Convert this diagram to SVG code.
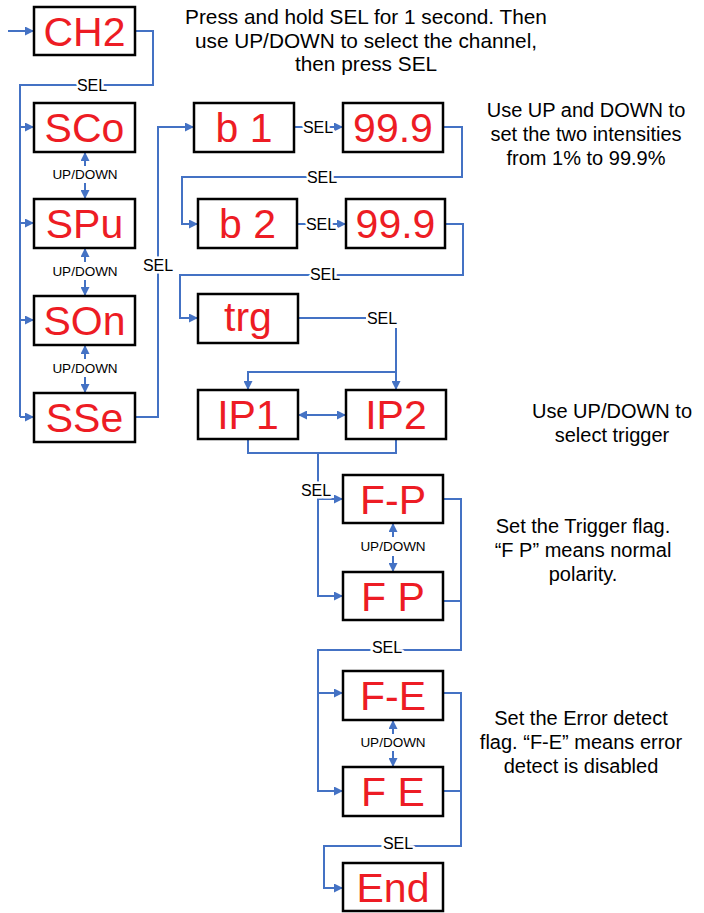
<svg xmlns="http://www.w3.org/2000/svg" width="704" height="913" viewBox="0 0 704 913">
<defs>
<marker id="ah" viewBox="0 0 10 10" refX="10" refY="5" markerWidth="10" markerHeight="9" markerUnits="userSpaceOnUse" orient="auto-start-reverse">
<path d="M0,0 L10,5 L0,10 z" fill="#4472C4"/>
</marker>
<style>
.box{fill:#fff;stroke:#000;stroke-width:2.5}
.lbl{font-family:"Liberation Sans",Arial,sans-serif;font-size:41px;fill:#ED1C24;text-anchor:middle}
.c{fill:none;stroke:#4472C4;stroke-width:2}
.a{fill:none;stroke:#4472C4;stroke-width:2;marker-end:url(#ah)}
.d{fill:none;stroke:#4472C4;stroke-width:2;marker-end:url(#ah);marker-start:url(#ah)}
.sel{font-family:"Liberation Sans",Arial,sans-serif;font-size:16px;fill:#000;text-anchor:middle;stroke:#fff;stroke-width:5;paint-order:stroke;stroke-linejoin:round}
.ud{font-family:"Liberation Sans",Arial,sans-serif;font-size:13.5px;fill:#000;text-anchor:middle}
.note{font-family:"Liberation Sans",Arial,sans-serif;font-size:20px;fill:#000;text-anchor:middle}
.top{font-size:20.8px}
</style>
</defs>
<rect width="704" height="913" fill="#fff"/>
<g id="connectors">
<path class="a" d="M8,31 H34"/>
<path class="c" d="M135,31 H153 V85 H20 V417"/>
<path class="a" d="M20,127 H34"/>
<path class="a" d="M20,223 H34"/>
<path class="a" d="M20,320 H34"/>
<path class="a" d="M20,417 H34"/>
<path class="a" d="M85,166 V152"/><path class="a" d="M85,183 V199"/>
<path class="a" d="M85,262 V248"/><path class="a" d="M85,280 V296"/>
<path class="a" d="M85,359 V345"/><path class="a" d="M85,377 V393"/>
<path class="a" d="M135,417 H158 V127 H194"/>
<path class="a" d="M294,127 H343"/>
<path class="a" d="M443,127 H462 V177 H182 V224 H198"/>
<path class="a" d="M297,224 H346"/>
<path class="a" d="M445,224 H463 V275 H180 V318 H198"/>
<path class="c" d="M298,318 H366"/>
<path class="a" d="M396,328 V390"/>
<path class="a" d="M396,372 H248 V390"/>
<path class="d" d="M298,415 H346"/>
<path class="c" d="M248,439 V453 H396 V439"/>
<path class="a" d="M318,453 V596 H343"/>
<path class="a" d="M318,499 H343"/>
<path class="a" d="M393,537 V523"/><path class="a" d="M393,556 V572"/>
<path class="a" d="M443,499 H461 V650 H318 V791 H343"/>
<path class="c" d="M443,601 H461"/>
<path class="a" d="M318,693 H343"/>
<path class="a" d="M393,734 V720"/><path class="a" d="M393,751 V767"/>
<path class="a" d="M443,693 H461 V846 H324 V888 H343"/>
<path class="c" d="M443,791 H461"/>
<text class="sel" x="92" y="91">SEL</text>
<text class="sel" x="158" y="271">SEL</text>
<text class="sel" x="318" y="133">SEL</text>
<text class="sel" x="322" y="183">SEL</text>
<text class="sel" x="321" y="230">SEL</text>
<text class="sel" x="325" y="280">SEL</text>
<text class="sel" x="382" y="324">SEL</text>
<text class="sel" x="316" y="496">SEL</text>
<text class="sel" x="387" y="653">SEL</text>
<text class="sel" x="398" y="849">SEL</text>
<text class="ud" x="85" y="179">UP/DOWN</text>
<text class="ud" x="85" y="276">UP/DOWN</text>
<text class="ud" x="85" y="373">UP/DOWN</text>
<text class="ud" x="393" y="551">UP/DOWN</text>
<text class="ud" x="393" y="747">UP/DOWN</text>
</g>
<g id="CH2"><rect class="box" x="34" y="7" width="101" height="48"/><text class="lbl" x="84.5" y="45.5">CH2</text></g>
<g id="SCo"><rect class="box" x="34" y="103" width="101" height="49"/><text class="lbl" x="84.5" y="142">SCo</text></g>
<g id="SPu"><rect class="box" x="34" y="199" width="101" height="49"/><text class="lbl" x="84.5" y="238">SPu</text></g>
<g id="SOn"><rect class="box" x="34" y="296" width="101" height="49"/><text class="lbl" x="84.5" y="335">SOn</text></g>
<g id="SSe"><rect class="box" x="34" y="393" width="101" height="49"/><text class="lbl" x="84.5" y="432">SSe</text></g>
<g id="b1"><rect class="box" x="194" y="103" width="100" height="49"/><text class="lbl" x="244" y="142">b 1</text></g>
<g id="v1"><rect class="box" x="343" y="103" width="100" height="49"/><text class="lbl" x="393" y="142">99.9</text></g>
<g id="b2"><rect class="box" x="198" y="199" width="99" height="49"/><text class="lbl" x="247.5" y="238">b 2</text></g>
<g id="v2"><rect class="box" x="346" y="199" width="99" height="49"/><text class="lbl" x="395.5" y="238">99.9</text></g>
<g id="trg"><rect class="box" x="198" y="294" width="100" height="49"/><text class="lbl" x="248" y="331">trg</text></g>
<g id="IP1"><rect class="box" x="198" y="390" width="100" height="49"/><text class="lbl" x="248" y="429">IP1</text></g>
<g id="IP2"><rect class="box" x="346" y="390" width="100" height="49"/><text class="lbl" x="396" y="429">IP2</text></g>
<g id="FdP"><rect class="box" x="343" y="475" width="100" height="48"/><text class="lbl" x="393" y="513.5">F-P</text></g>
<g id="FP"><rect class="box" x="343" y="572" width="100" height="48"/><text class="lbl" x="393" y="610.5">F P</text></g>
<g id="FdE"><rect class="box" x="343" y="671" width="100" height="49"/><text class="lbl" x="393" y="710">F-E</text></g>
<g id="FE"><rect class="box" x="343" y="767" width="100" height="49"/><text class="lbl" x="393" y="806">F E</text></g>
<g id="End"><rect class="box" x="343" y="863" width="100" height="48"/><text class="lbl" x="393" y="901.5">End</text></g>
<g id="notes">
<text class="note top" x="366" y="24">Press and hold SEL for 1 second. Then</text>
<text class="note top" x="366" y="48">use UP/DOWN to select the channel,</text>
<text class="note top" x="366" y="71">then press SEL</text>
<text class="note" x="586" y="117">Use UP and DOWN to</text>
<text class="note" x="586" y="141">set the two intensities</text>
<text class="note" x="586" y="165">from 1% to 99.9%</text>
<text class="note" x="612" y="418">Use UP/DOWN to</text>
<text class="note" x="612" y="442">select trigger</text>
<text class="note" x="583" y="533">Set the Trigger flag.</text>
<text class="note" x="583" y="557">“F P” means normal</text>
<text class="note" x="583" y="581">polarity.</text>
<text class="note" x="581" y="725">Set the Error detect</text>
<text class="note" x="581" y="749">flag. “F-E” means error</text>
<text class="note" x="581" y="773">detect is disabled</text>
</g>
</svg>
